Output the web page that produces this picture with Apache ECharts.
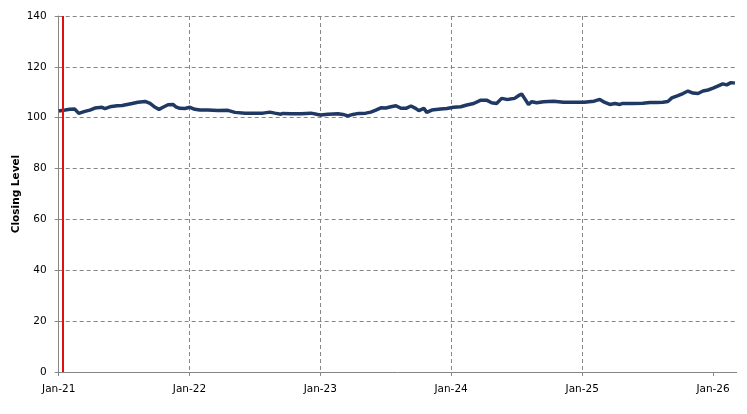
<!DOCTYPE html>
<html>
<head>
<meta charset="utf-8">
<script src="https://cdn.jsdelivr.net/npm/echarts@6/dist/echarts.min.js"></script>
<style>
html,body{margin:0;padding:0;background:#fff;}
#chart{width:747px;height:414px;}
</style>
</head>
<body>
<div id="chart"></div>
<script>
var dates = ['2021-01-01','2021-01-19','2021-02-01','2021-02-15','2021-02-26','2021-03-15','2021-03-29','2021-04-12','2021-05-02','2021-05-10','2021-05-24','2021-06-13','2021-06-27','2021-07-11','2021-07-25','2021-08-10','2021-08-30','2021-09-13','2021-09-27','2021-10-08','2021-10-19','2021-11-02','2021-11-16','2021-11-24','2021-12-05','2021-12-19',
'2022-01-02','2022-01-16','2022-01-30','2022-02-21','2022-03-21','2022-04-18','2022-05-08','2022-06-05','2022-07-02','2022-07-25','2022-08-13','2022-08-27','2022-09-13','2022-09-19','2022-10-11','2022-11-08','2022-12-06','2022-12-25',
'2023-01-02','2023-01-22','2023-02-19','2023-03-05','2023-03-19','2023-04-02','2023-04-18','2023-05-08','2023-05-22','2023-06-05','2023-06-19','2023-07-03','2023-07-17','2023-07-31','2023-08-14','2023-08-28','2023-09-11','2023-09-24','2023-10-03','2023-10-17','2023-10-25','2023-11-08','2023-12-03','2023-12-20',
'2024-01-08','2024-01-28','2024-02-14','2024-03-04','2024-03-24','2024-04-09','2024-04-23','2024-05-07','2024-05-21','2024-06-04','2024-06-10','2024-06-26','2024-07-10','2024-07-16','2024-07-24','2024-08-04','2024-08-13','2024-08-27','2024-09-15','2024-10-13','2024-11-10','2024-12-08',
'2025-01-06','2025-02-03','2025-02-19','2025-03-05','2025-03-19','2025-04-02','2025-04-16','2025-04-22','2025-05-22','2025-06-19','2025-07-09','2025-07-28','2025-08-14','2025-08-28','2025-09-08','2025-09-25','2025-10-09','2025-10-23','2025-11-06','2025-11-20','2025-12-04','2025-12-18',
'2026-01-01','2026-01-14','2026-01-28','2026-02-08','2026-02-20','2026-03-03'];
var closing = [102.6,103.0,103.3,103.4,101.7,102.5,103.0,103.8,104.1,103.6,104.3,104.7,104.8,105.2,105.6,106.1,106.4,105.6,104.1,103.3,104.1,105.1,105.2,104.3,103.7,103.6,
104.1,103.3,103.0,103.0,102.8,102.9,102.1,101.8,101.8,101.8,102.2,101.8,101.4,101.7,101.6,101.6,101.8,101.3,
101.1,101.4,101.6,101.3,100.7,101.3,101.7,101.8,102.2,103.0,103.9,103.8,104.3,104.7,103.7,103.7,104.6,103.7,102.8,103.7,102.1,103.0,103.4,103.6,
104.1,104.3,105.0,105.6,106.9,106.9,105.9,105.6,107.6,107.2,107.3,107.6,108.9,109.3,107.6,105.2,106.3,105.9,106.3,106.5,106.1,106.1,
106.1,106.5,107.2,106.0,105.2,105.6,105.2,105.6,105.6,105.7,106.0,106.0,106.1,106.4,107.8,108.7,109.5,110.5,109.7,109.5,110.5,110.9,
111.6,112.4,113.3,112.9,113.8,113.6];
var xTickDates = ['2021-01-01','2022-01-01','2023-01-01','2024-01-01','2025-01-01','2026-01-01'];
var xMinDate = '2021-01-01';
var xMaxDate = '2026-03-08';
var markerDate = '2021-01-12';
var yTicks = [0,20,40,60,80,100,120,140];
var months = ['Jan','Feb','Mar','Apr','May','Jun','Jul','Aug','Sep','Oct','Nov','Dec'];

function toTime(s){ var p=s.split('-'); return new Date(+p[0], +p[1]-1, +p[2]).getTime(); }

var seriesData = dates.map(function(d,i){ return [toTime(d), closing[i]]; });
var tickVals = xTickDates.map(toTime);

var chart = echarts.init(document.getElementById('chart'), null, {renderer:'canvas'});
chart.setOption({
  animation: false,
  backgroundColor: '#ffffff',
  textStyle: {fontFamily: 'DejaVu Sans'},
  grid: {left: 58.7, right: 10.3, top: 16, bottom: 42, containLabel: false, outerBoundsMode: 'none'},
  xAxis: {
    type: 'value',
    min: toTime(xMinDate),
    max: toTime(xMaxDate),
    axisLine: {show: true, lineStyle: {color: '#868686', width: 1}},
    axisTick: {show: true, inside: false, length: 4, customValues: tickVals, lineStyle: {color: '#868686'}},
    axisLabel: {
      customValues: tickVals,
      margin: 12,
      fontSize: 10.5,
      color: '#000',
      fontFamily: 'DejaVu Sans',
      formatter: function(v){ var d = new Date(v); return months[d.getMonth()] + '-' + String(d.getFullYear()).slice(2); }
    },
    splitLine: {show: true, showMinLine: false, showMaxLine: false, lineStyle: {color: '#868686', type: [4,3], width: 1}}
  },
  yAxis: {
    type: 'value',
    min: yTicks[0],
    max: yTicks[yTicks.length-1],
    interval: yTicks[1]-yTicks[0],
    name: 'Closing Level',
    nameLocation: 'middle',
    nameGap: 37,
    nameMoveOverlap: false,
    nameRotate: 90,
    nameTextStyle: {fontWeight: 'bold', fontSize: 10.5, color: '#000', fontFamily: 'DejaVu Sans'},
    axisLine: {show: true, lineStyle: {color: '#868686', width: 1}},
    axisTick: {show: true, inside: false, length: 4, lineStyle: {color: '#868686'}},
    axisLabel: {margin: 12, fontSize: 10.5, color: '#000', fontFamily: 'DejaVu Sans'},
    splitLine: {show: true, showMinLine: false, lineStyle: {color: '#868686', type: [4,3], width: 1}}
  },
  series: [{
    type: 'line',
    data: seriesData,
    symbol: 'none',
    lineStyle: {color: '#203864', width: 3.5},
    markLine: {
      silent: true,
      symbol: ['none','none'],
      label: {show: false},
      lineStyle: {color: '#e01010', width: 2, type: 'solid'},
      data: [{xAxis: toTime(markerDate)}]
    }
  }]
});
</script>
</body>
</html>
